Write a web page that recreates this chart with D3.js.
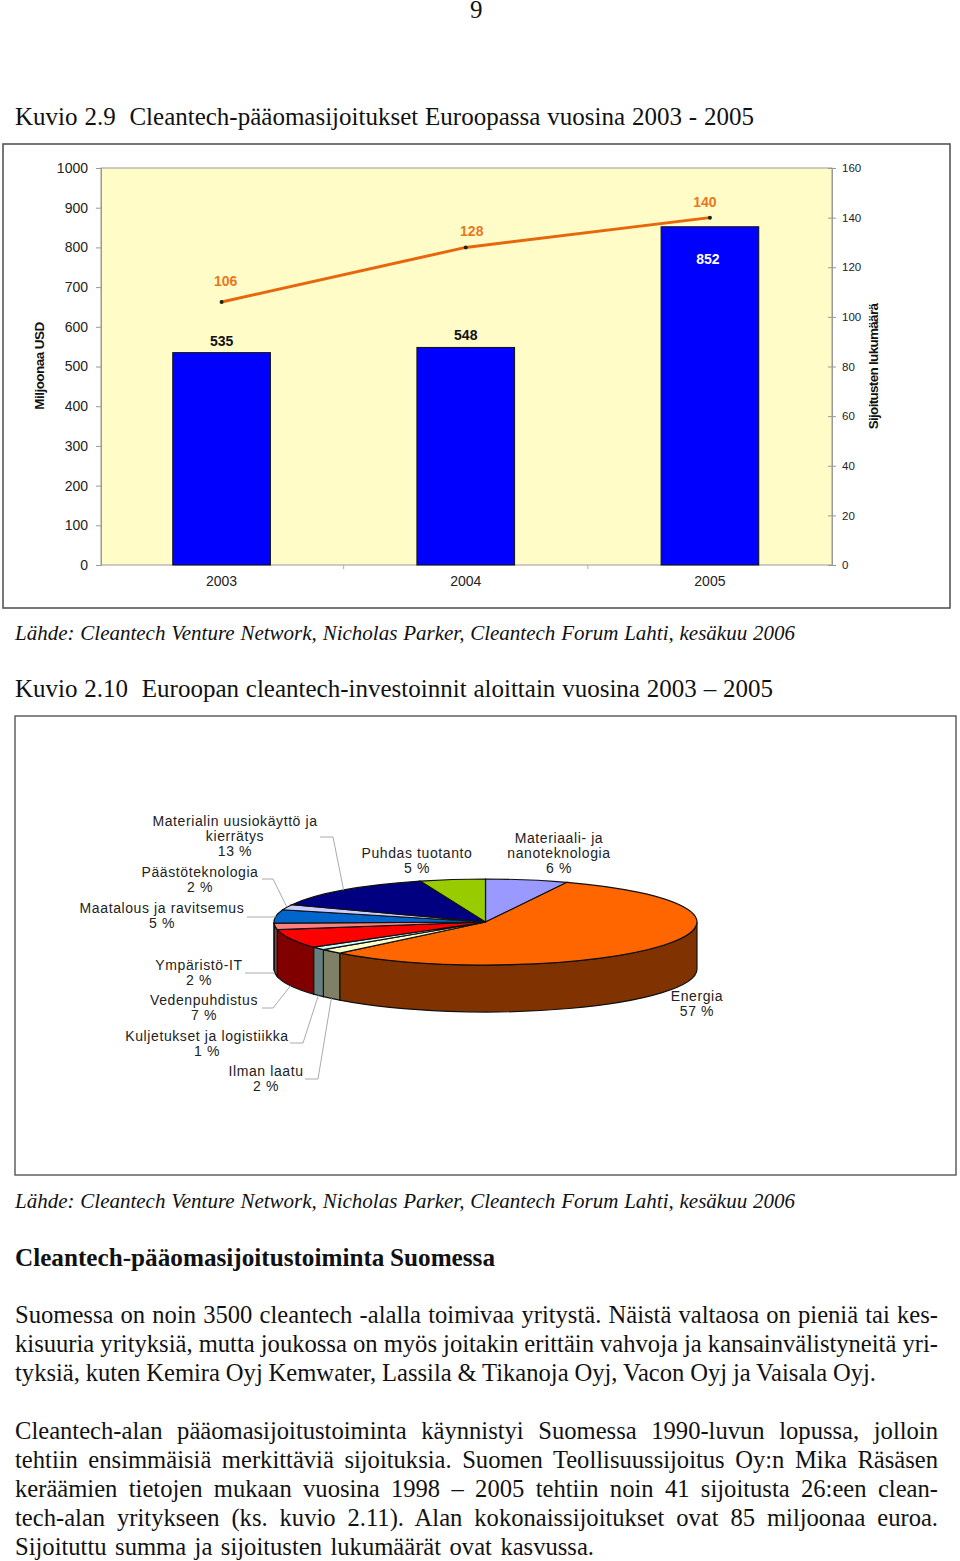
<!DOCTYPE html>
<html><head><meta charset="utf-8">
<script src="https://cdn.jsdelivr.net/npm/d3@7"></script>
<style>
html,body{margin:0;padding:0;background:#fff}
svg{display:block}
.doc{font-family:"Liberation Serif",serif;fill:#111}
.sans{font-family:"Liberation Sans",Arial,sans-serif}
</style></head><body><svg id="page" width="960" height="1561"></svg>
<script>
const years=["2003","2004","2005"];
const investments=[535,548,852];
const dealCounts=[106,128,140];
const leftTicks=[0,100,200,300,400,500,600,700,800,900,1000];
const rightTicks=[0,20,40,60,80,100,120,140,160];
const sectors=["Materiaali- ja nanoteknologia","Energia","Ilman laatu","Kuljetukset ja logistiikka","Vedenpuhdistus","Ympäristö-IT","Maatalous ja ravitsemus","Päästöteknologia","Materialin uusiokäyttö ja kierrätys","Puhdas tuotanto"];
const sectorLabels=[6,57,2,1,7,2,5,2,13,5];
const sectorShares=[6.3,55.8,1.8,1.2,7.1,2.4,5,2,13.4,5];
const topColors=["#9999ff","#ff6600","#ffffcc","#ccffff","#ff0000","#ff8080","#0066cc","#ccccff","#000080","#99cc00"];
const sideColors=["#4d4d80","#803300","#808066","#668080","#800000","#804040","#003366","#666680","#000040","#4d6600"];
const heading1="Kuvio 2.9\u00a0 Cleantech-pääomasijoitukset Euroopassa vuosina 2003 - 2005";
const heading2="Kuvio 2.10\u00a0 Euroopan cleantech-investoinnit aloittain vuosina 2003 – 2005";
const sourceLine="Lähde: Cleantech Venture Network, Nicholas Parker, Cleantech Forum Lahti, kesäkuu 2006";
const subheading="Cleantech-pääomasijoitustoiminta Suomessa";
const para1=["Suomessa on noin 3500 cleantech -alalla toimivaa yritystä. Näistä valtaosa on pieniä tai kes-","kisuuria yrityksiä, mutta joukossa on myös joitakin erittäin vahvoja ja kansainvälistyneitä yri-","tyksiä, kuten Kemira Oyj Kemwater, Lassila & Tikanoja Oyj, Vacon Oyj ja Vaisala Oyj."];
const para2=["Cleantech-alan pääomasijoitustoiminta käynnistyi Suomessa 1990-luvun lopussa, jolloin","tehtiin ensimmäisiä merkittäviä sijoituksia. Suomen Teollisuussijoitus Oy:n Mika Räsäsen","keräämien tietojen mukaan vuosina 1998 – 2005 tehtiin noin 41 sijoitusta 26:een clean-","tech-alan yritykseen (ks. kuvio 2.11). Alan kokonaissijoitukset ovat 85 miljoonaa euroa.","Sijoituttu summa ja sijoitusten lukumäärät ovat kasvussa."];

const svg=d3.select("#page");
function docText(str,x,y,size,width,opts={}){
  const t=svg.append("text").attr("class","doc").attr("x",x).attr("y",y).attr("font-size",size).text(str);
  if(opts.italic)t.attr("font-style","italic");
  if(opts.bold)t.attr("font-weight","bold");
  if(width){
    const gaps=str.split(/[ \u00a0]/).length-1, len=t.node().getComputedTextLength();
    t.attr("word-spacing",(width-len)/gaps);
  }
  return t;
}
docText("9",470,18,25,0);
docText(heading1,15,125,25,739);
docText(sourceLine,15,640,21,780,{italic:true});
docText(heading2,15,697,25,758);
docText(sourceLine,15,1208,21,780,{italic:true});
docText(subheading,15,1266,25.2,480,{bold:true});
const paraW1=[923,923,861], paraW2=[923,923,923,923,579];
para1.forEach((s,i)=>docText(s,15,1323+i*29,24.6,paraW1[i]));
para2.forEach((s,i)=>docText(s,15,1439+i*29,24.6,paraW2[i]));

// --- Chart 1
svg.append("rect").attr("x",3).attr("y",144).attr("width",947).attr("height",464).attr("fill","#fff").attr("stroke","#555").attr("stroke-width",1.6);
const px0=101,px1=832,py0=565,py1=168;
svg.append("rect").attr("x",px0).attr("y",py1).attr("width",px1-px0).attr("height",py0-py1).attr("fill","#fffcc8").attr("stroke","#999").attr("stroke-width",1);
const xb=d3.scaleBand().domain(years).range([px0-1.5,px1]).paddingInner(0.6).paddingOuter(0.3);
const yL=d3.scaleLinear().domain([0,1000]).range([py0,py1]);
const yR=d3.scaleLinear().domain([0,160]).range([py0,py1]);
const cx=d=>xb(d)+xb.bandwidth()/2;
const gAxisL=svg.append("g").attr("transform",`translate(${px0},0)`).call(d3.axisLeft(yL).tickValues(leftTicks).tickSize(5).tickPadding(8).tickFormat(d3.format("d")));
const gAxisR=svg.append("g").attr("transform",`translate(${px1},0)`).call(d3.axisRight(yR).tickValues(rightTicks).tickSize(4).tickPadding(6).tickFormat(d3.format("d")));
[gAxisL,gAxisR].forEach(g=>{g.select(".domain").attr("stroke","#999");g.selectAll("line").attr("stroke","#999");});
gAxisL.selectAll("text").attr("class","sans").attr("font-size",14).attr("fill","#222");
gAxisR.selectAll("text").attr("class","sans").attr("font-size",11.5).attr("fill","#222");
gAxisR.selectAll(".tick line").attr("x1",-4);
const xTick=d3.scaleBand().domain(years).range([px0-1.5,px1]);
const gX=svg.append("g").attr("transform",`translate(0,${py0})`).call(d3.axisBottom(xTick).tickSize(0).tickPadding(11));
gX.select(".domain").remove();
gX.selectAll("text").attr("class","sans").attr("font-size",14).attr("fill","#222");
svg.append("g").selectAll("line").data(years.slice(1)).join("line").attr("x1",d=>xTick(d)).attr("x2",d=>xTick(d)).attr("y1",py0).attr("y2",py0+4).attr("stroke","#aaa");
svg.append("g").selectAll("rect").data(years).join("rect")
 .attr("x",d=>xb(d)).attr("width",xb.bandwidth())
 .attr("y",(d,i)=>yL(investments[i])).attr("height",(d,i)=>py0-yL(investments[i]))
 .attr("fill","#0000ff").attr("stroke","#111").attr("stroke-width",1);
const ln=d3.line().x((d,i)=>cx(years[i])).y(d=>yR(d));
svg.append("path").datum(dealCounts).attr("d",ln).attr("fill","none").attr("stroke","#e8660c").attr("stroke-width",3);
svg.append("g").selectAll("circle").data(dealCounts).join("circle").attr("cx",(d,i)=>cx(years[i])).attr("cy",d=>yR(d)).attr("r",2).attr("fill","#221");
const barLabelDy=[-7,-7,37], barLabelDx=[0,0,-2], barLabelFill=["#111","#111","#fff"];
svg.append("g").selectAll("text").data(investments).join("text").attr("class","sans").attr("font-size",14).attr("font-weight","bold").attr("text-anchor","middle")
 .attr("x",(d,i)=>cx(years[i])+barLabelDx[i]).attr("y",(d,i)=>yL(d)+barLabelDy[i]).attr("fill",(d,i)=>barLabelFill[i]).text(d=>d);
const lineLabelDx=[4,6,-5], lineLabelDy=[-16,-11,-11];
svg.append("g").selectAll("text").data(dealCounts).join("text").attr("class","sans").attr("font-size",14).attr("font-weight","bold").attr("text-anchor","middle")
 .attr("x",(d,i)=>cx(years[i])+lineLabelDx[i]).attr("y",(d,i)=>yR(d)+lineLabelDy[i]).attr("fill","#e8781e").text(d=>d);
svg.append("text").attr("class","sans").attr("font-size",13.5).attr("font-weight","bold").attr("letter-spacing",-0.55).attr("text-anchor","middle").attr("transform","translate(44,366) rotate(-90)").attr("fill","#111").text("Miljoonaa USD");
svg.append("text").attr("class","sans").attr("font-size",13.5).attr("font-weight","bold").attr("letter-spacing",-0.7).attr("text-anchor","middle").attr("transform","translate(878,366.5) rotate(-90)").attr("fill","#111").text("Sijoitusten lukumäärä");

// --- Chart 2
svg.append("rect").attr("x",15).attr("y",716).attr("width",941).attr("height",459).attr("fill","#fff").attr("stroke","#555").attr("stroke-width",1.4);
const pcx=485.5,pcy=922,rx=211.5,ry=43,depth=47;
const pie=d3.pie().sort(null).value(d=>d)(sectorShares);
const pt=a=>[pcx+rx*Math.sin(a),pcy-ry*Math.cos(a)];
const gPie=svg.append("g");
pie.forEach((d,i)=>{
  const a0=Math.max(d.startAngle,Math.PI/2),a1=Math.min(d.endAngle,3*Math.PI/2);
  if(a1<=a0)return;
  const [x0,y0]=pt(a0),[x1,y1]=pt(a1);
  gPie.append("path").attr("d",`M${x0},${y0}A${rx},${ry} 0 0 1 ${x1},${y1}L${x1},${y1+depth}A${rx},${ry} 0 0 0 ${x0},${y0+depth}Z`)
   .attr("fill",sideColors[i]).attr("stroke","#111").attr("stroke-width",1.2);
});
const arc=d3.arc().innerRadius(0).outerRadius(rx);
gPie.append("g").attr("transform",`translate(${pcx},${pcy}) scale(1,${ry/rx})`)
 .selectAll("path").data(pie).join("path").attr("d",arc).attr("fill",(d,i)=>topColors[i])
 .attr("stroke","#111").attr("stroke-width",1.2).attr("vector-effect","non-scaling-stroke");

const labelAnchors=[[559,843],[697,1001],[266,1076],[207,1041],[204,1005],[199,970],[162,913],[200,877],[235,826],[417,858]];
const labelLines=[["Materiaali- ja","nanoteknologia"],["Energia"],["Ilman laatu"],["Kuljetukset ja logistiikka"],["Vedenpuhdistus"],["Ympäristö-IT"],["Maatalous ja ravitsemus"],["Päästöteknologia"],["Materialin uusiokäyttö ja","kierrätys"],["Puhdas tuotanto"]];
const gLab=svg.append("g");
sectors.forEach((s,i)=>{
  const lines=[...labelLines[i],sectorLabels[i]+" %"];
  const t=gLab.append("text").attr("class","sans").attr("font-size",14).attr("letter-spacing",0.6).attr("fill","#222").attr("text-anchor","middle");
  lines.forEach((l,j)=>t.append("tspan").attr("x",labelAnchors[i][0]).attr("y",labelAnchors[i][1]+j*15).text(l));
});
// callouts: label end x, elbow x, callout y; the far end comes from the slice's own mid angle
const callouts=[null,null,[305,318,1079],[290,303,1043],[262,273,1008],[245,273,973],[247,273,917],[262,273,879],[320,333,837],null];
const lg=d3.line();
const calloutPaths=pie.map((d,i)=>{
  const c=callouts[i]; if(!c)return null;
  const m=(d.startAngle+d.endAngle)/2;
  const [ex,ey]=pt(m);
  const end=[ex,Math.cos(m)<0?ey+depth:ey];
  return lg([[c[0],c[2]],[c[1],c[2]],end]);
}).filter(Boolean);
svg.append("g").selectAll("path").data(calloutPaths).join("path").attr("d",d=>d).attr("fill","none").attr("stroke","#aaa").attr("stroke-width",1);
</script></body></html>
